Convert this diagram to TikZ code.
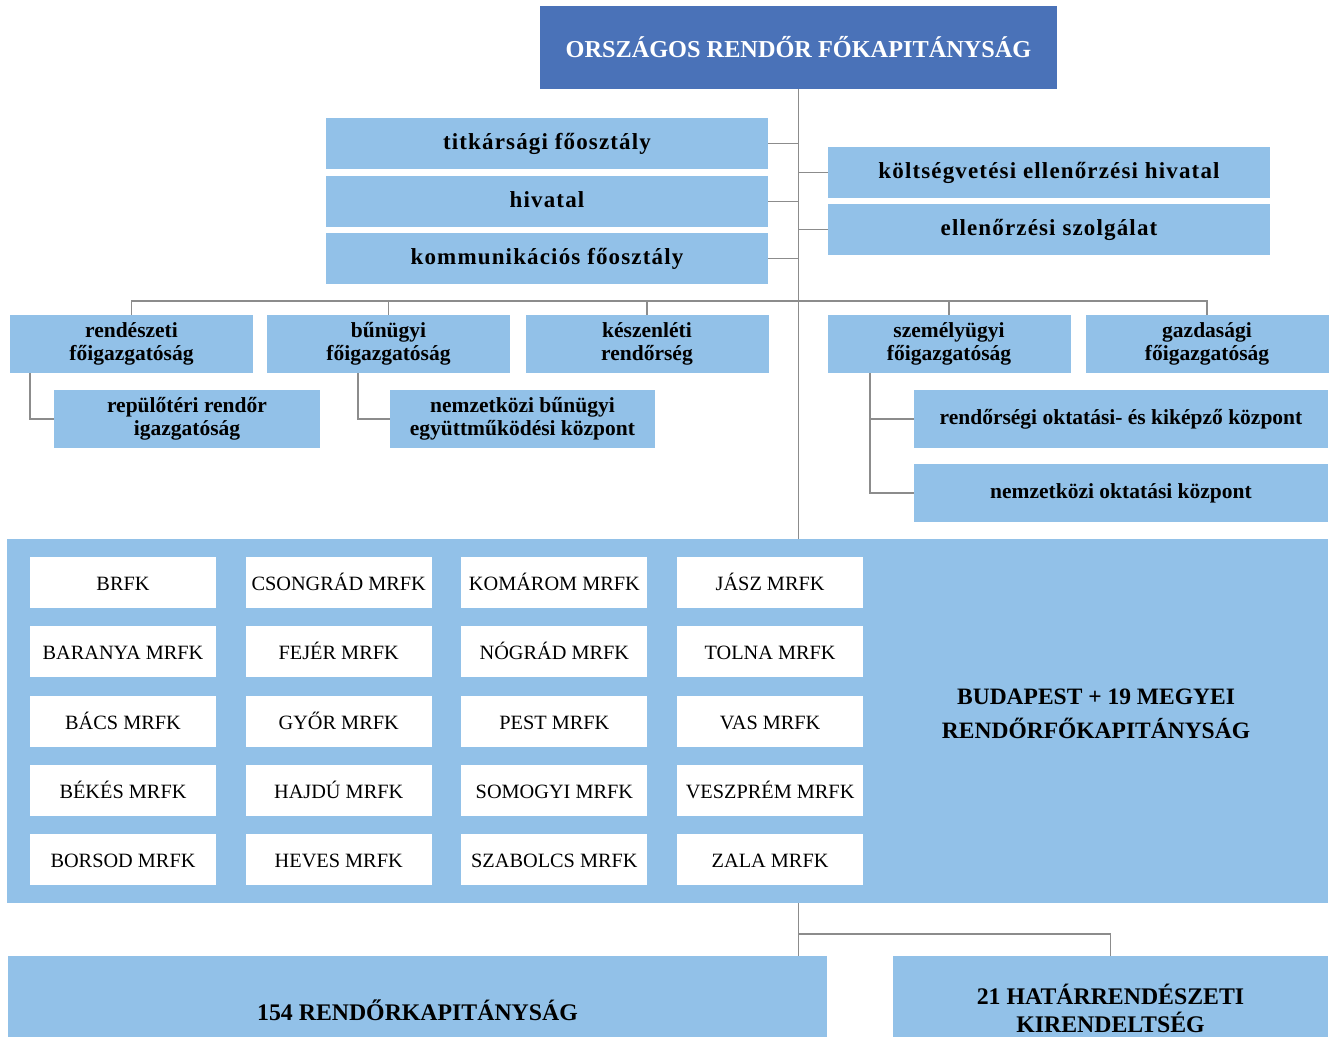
\documentclass[tikz,border=0pt]{standalone}
\usepackage{fontspec}
\setmainfont{Liberation Serif}
\newfontfamily\ritkitott[LetterSpace=5]{Liberation Serif}
\definecolor{orfkblue}{HTML}{4A72B8}
\definecolor{lightblue}{HTML}{92C1E8}
\definecolor{conngray}{HTML}{8C8C8C}

\begin{document}
\begin{tikzpicture}[x=1pt, y=-1pt,
    box/.style={fill=lightblue, inner sep=0pt, align=center, font=\bfseries\fontsize{21.5}{23.5}\selectfont},
    staff/.style={box, minimum width=442, minimum height=51, text height=16pt, text depth=5pt,
                  font=\ritkitott\bfseries\fontsize{23}{24}\selectfont},
    fo/.style={box, minimum width=243, minimum height=58},
    cell/.style={fill=white, inner sep=0pt, minimum width=186, minimum height=51,
                 text height=17pt, text depth=1pt, font=\fontsize{20.3}{22}\selectfont},
    conn/.style={draw=conngray, line width=1.8pt}]
\useasboundingbox (0,0) rectangle (1330,1036);

% felso szint
\node[fill=orfkblue, text=white, minimum width=517, minimum height=83, inner sep=0pt,
      font=\bfseries\fontsize{24.3}{26}\selectfont] (orfk) at (798.5,47.5) {ORSZÁGOS RENDŐR FŐKAPITÁNYSÁG};

\node[staff] (titk) at (547,143.5) {titkársági főosztály};
\node[staff] (hiv) at (547,201.5) {hivatal};
\node[staff] (komm) at (547,258.5) {kommunikációs főosztály};
\node[staff] (kolts) at (1049,172.5) {költségvetési ellenőrzési hivatal};
\node[staff] (ell) at (1049,229.5) {ellenőrzési szolgálat};

% foigazgatosagok
\node[fo] (rend) at (131.5,344) {rendészeti\\főigazgatóság};
\node[fo] (bun) at (388.5,344) {bűnügyi\\főigazgatóság};
\node[fo] (kesz) at (647,344) {készenléti\\rendőrség};
\node[fo] (szem) at (949,344) {személyügyi\\főigazgatóság};
\node[fo] (gazd) at (1207,344) {gazdasági\\főigazgatóság};

\node[box, minimum width=266, minimum height=58] (rep) at (187,419) {repülőtéri rendőr\\igazgatóság};
\node[box, minimum width=265, minimum height=58] (nbek) at (522.5,419) {nemzetközi bűnügyi\\együttműködési központ};
\node[box, minimum width=414, minimum height=58] (rokk) at (1121,419) {rendőrségi oktatási- és kiképző központ};
\node[box, minimum width=414, minimum height=58] (nok) at (1121,493) {nemzetközi oktatási központ};

% megyei kapitanysagok
\node[fill=lightblue, minimum width=1321, minimum height=364, inner sep=0pt] (megyek) at (667.5,721) {};
\foreach \name [count=\i from 0] in {BRFK, BARANYA MRFK, BÁCS MRFK, BÉKÉS MRFK, BORSOD MRFK,
    CSONGRÁD MRFK, FEJÉR MRFK, GYŐR MRFK, HAJDÚ MRFK, HEVES MRFK,
    KOMÁROM MRFK, NÓGRÁD MRFK, PEST MRFK, SOMOGYI MRFK, SZABOLCS MRFK,
    JÁSZ MRFK, TOLNA MRFK, VAS MRFK, VESZPRÉM MRFK, ZALA MRFK} {
  \pgfmathtruncatemacro{\col}{div(\i,5)}
  \pgfmathtruncatemacro{\row}{mod(\i,5)}
  \node[cell] (m\i) at (123+215.7*\col, 582.5+69.25*\row) {\name};
}
\node[align=center, font=\bfseries\fontsize{23.5}{34}\selectfont] (bp) at (1096,714) {BUDAPEST + 19 MEGYEI\\RENDŐRFŐKAPITÁNYSÁG};

% also szint
\node[box, minimum width=819, minimum height=108, font=\bfseries\fontsize{23.8}{28}\selectfont] (kap) at (417.5,1010) {154 RENDŐRKAPITÁNYSÁG};
\node[box, minimum width=435, minimum height=104, font=\bfseries\fontsize{23.8}{28}\selectfont] (hat) at (1110.5,1008) {21 HATÁRRENDÉSZETI\\KIRENDELTSÉG};

% vonalak
\coordinate (gyujto) at (799,301);
\coordinate (elag) at (799,934);
\coordinate (rendleg) at ([xshift=-101.5]rend.south);
\coordinate (bunleg) at ([xshift=-30.5]bun.south);
\coordinate (szemleg) at ([xshift=-79]szem.south);
\begin{scope}[on background layer/.try]
\draw[conn] (orfk.south) -- (orfk.south |- megyek.north);
\draw[conn] (titk.east) -- (titk.east -| orfk.south);
\draw[conn] (hiv.east) -- (hiv.east -| orfk.south);
\draw[conn] (komm.east) -- (komm.east -| orfk.south);
\draw[conn] (kolts.west) -- (kolts.west -| orfk.south);
\draw[conn] (ell.west) -- (ell.west -| orfk.south);
\draw[conn] (rend.north) |- (gyujto) -| (gazd.north);
\draw[conn] (bun.north) -- (bun.north |- gyujto);
\draw[conn] (kesz.north) -- (kesz.north |- gyujto);
\draw[conn] (szem.north) -- (szem.north |- gyujto);
\draw[conn] (rendleg) |- (rep.west);
\draw[conn] (bunleg) |- (nbek.west);
\draw[conn] (szemleg) |- (nok.west);
\draw[conn] (szemleg |- rokk.west) -- (rokk.west);
\draw[conn] (megyek.south -| orfk.south) -- (kap.north -| orfk.south);
\draw[conn] (elag) -| (hat.north);
\end{scope}
\end{tikzpicture}
\end{document}
